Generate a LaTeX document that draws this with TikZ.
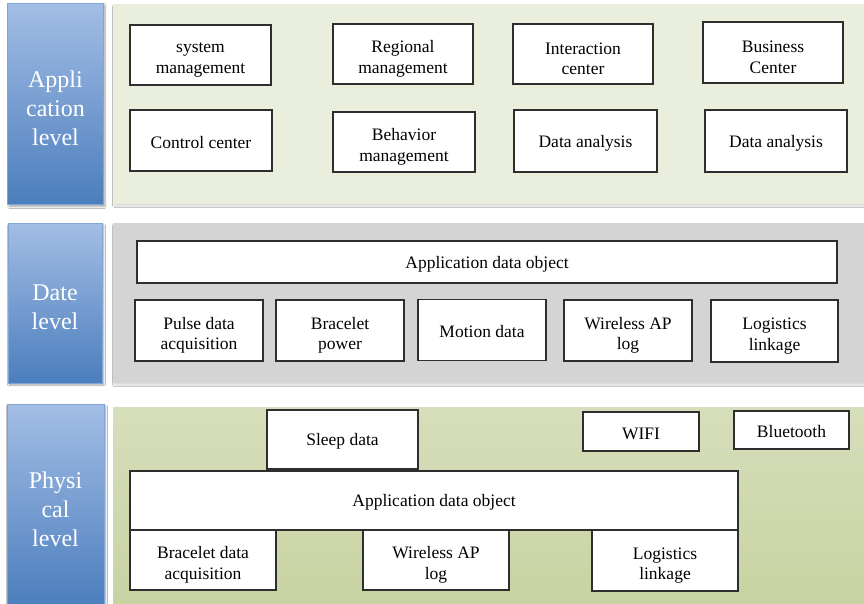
\documentclass[tikz,border=0pt]{standalone}
\usepackage{fontspec}
\setmainfont{Liberation Serif}
\usetikzlibrary{shadows,shadows.blur}
\definecolor{lvltop}{HTML}{A3BDE5}
\definecolor{lvlbot}{HTML}{4B7EBD}
\definecolor{appband}{HTML}{EAEEDC}
\definecolor{dateband}{HTML}{D4D4D4}
\definecolor{phytop}{HTML}{D6DEBB}
\definecolor{phybot}{HTML}{C8D3A2}
\definecolor{boxline}{HTML}{2E2E2E}
\tikzset{
  lvlbox/.style={rectangle, inner sep=0pt,
    top color=lvltop, bottom color=lvlbot, draw=lvltop!60!lvlbot, line width=0.6pt,
    blur shadow={shadow xshift=1.5pt, shadow yshift=-2pt, shadow blur steps=6, shadow opacity=35}},
  lvltext/.style={inner sep=0pt, align=center, text=white, font=\fontsize{24}{29}\selectfont},
  modbox/.style={rectangle, inner sep=0pt, fill=white, draw=boxline, line width=1.2pt,
    drop shadow={shadow xshift=0.8pt, shadow yshift=-0.8pt, opacity=0.35}},
  modtext/.style={inner sep=0pt, align=center, font=\fontsize{17.5}{20.5}\selectfont},
  bandshadow/.style={blur shadow={shadow xshift=1pt, shadow yshift=-2pt, shadow blur radius=1.5pt, shadow blur steps=4, shadow opacity=15}}
}
% \modnode{name}{x}{y}{width}{height}{text drop}{text}
\newcommand\modnode[7]{%
  \node[modbox, minimum width=#4pt, minimum height=#5pt] (#1) at (#2,#3) {};
  \node[modtext] (#1-t) at ([yshift=-#6pt]#1.center) {#7};}
% \lvlnode{name}{x}{y}{width}{height}{text}
\newcommand\lvlnode[6]{%
  \node[lvlbox, minimum width=#4pt, minimum height=#5pt] (#1) at (#2,#3) {};
  \node[lvltext] (#1-t) at ([yshift=-4pt]#1.center) {#6};}
\begin{document}
\begin{tikzpicture}[x=1pt,y=-1pt]
\useasboundingbox (0,0) rectangle (864,604);
\fill[white] (0,0) rectangle (864,604);

% background bands of the three levels
\path[fill=appband, bandshadow] (113,4) rectangle (864,204);
\path[fill=dateband, bandshadow] (113,223) rectangle (864,383);
\shade[top color=phytop, bottom color=phybot] (113,407) rectangle (864,604);

% level titles
\lvlnode{lapp}{55.5}{104}{96}{201}{Appli\\cation\\level}
\lvlnode{ldate}{55}{303}{94}{160}{Date\\level}
\lvlnode{lphy}{55.5}{505}{97}{202}{Physi\\cal\\level}

% application level
\modnode{sys}{200.5}{55}{141}{60}{5}{system\\management}
\modnode{reg}{403}{54}{140}{60}{5}{Regional\\management}
\modnode{inter}{583}{54}{140}{60}{5}{Interaction\\center}
\modnode{bus}{773}{52.5}{140}{61}{5}{Business\\Center}
\modnode{ctrl}{201}{140.5}{142}{61}{2}{Control center}
\modnode{behav}{404}{142}{142}{60}{5}{Behavior\\management}
\modnode{da1}{585.5}{141}{143}{62}{2}{Data analysis}
\modnode{da2}{776}{141}{142}{62}{2}{Data analysis}

% data level
\modnode{ado1}{487}{262}{700}{42}{2}{Application data object}
\modnode{pulse}{199}{330.5}{128}{61}{5}{Pulse data\\acquisition}
\modnode{brp}{340}{330.5}{128}{61}{5}{Bracelet\\power}
\modnode{motion}{482}{330}{128}{61}{2}{Motion data}
\modnode{wap1}{628}{330.5}{128}{61}{5}{Wireless AP\\log}
\modnode{logi1}{774.5}{331}{127}{62}{5}{Logistics\\linkage}

% physical level
\modnode{sleep}{342.5}{439.5}{151}{59}{2}{Sleep data}
\modnode{wifi}{641}{431.5}{116}{39}{2}{WIFI}
\modnode{bt}{791.5}{430}{115}{38}{2}{Bluetooth}
\modnode{ado2}{434}{500.5}{608}{59}{2}{Application data object}
\modnode{bda}{203}{560}{146}{60}{5}{Bracelet data\\acquisition}
\modnode{wap2}{436}{560}{146}{60}{5}{Wireless AP\\log}
\modnode{logi2}{665}{560.5}{146}{61}{5}{Logistics\\linkage}
\end{tikzpicture}
\end{document}
